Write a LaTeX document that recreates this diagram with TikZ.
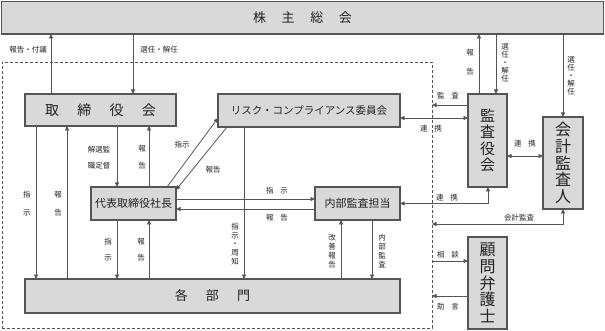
\documentclass[tikz,border=0pt]{standalone}
\usepackage{fontspec}
\setmainfont{Noto Sans CJK JP}
\usetikzlibrary{arrows.meta,calc}
\definecolor{boxfill}{HTML}{D9D9D9}
\definecolor{edge}{HTML}{555555}
\definecolor{txt}{HTML}{222222}
\begin{document}
\begin{tikzpicture}[x=1pt,y=-1pt,
  box/.style={draw=edge,fill=boxfill,line width=1.1pt,inner sep=0pt,outer sep=0pt,text=txt},
  tip/.tip={Triangle[length=4.5pt,width=4pt]},
  arr/.style={draw=edge,line width=0.8pt,-tip},
  darr/.style={draw=edge,line width=0.8pt,tip-tip},
  frame/.style={draw=edge,line width=0.8pt,dash pattern=on 3pt off 2pt,inner sep=0pt,outer sep=0pt},
  lbl/.style={font=\fontsize{7.5}{8}\selectfont,inner sep=0pt,text=txt},
  vt/.style={lbl,align=center},
]
\useasboundingbox (0,0) rectangle (605,331);

% helper coordinates (columns / rows)
\foreach \xx in {36,51,67,117,133,149,167,227,244,341,372,479,488,496}
  {\coordinate (x\xx) at (\xx,0);}
\foreach \yy in {105,118,156,190,199,209,224,261,296}
  {\coordinate (y\yy) at (0,\yy);}

% dashed frame
\node[frame,minimum width=430pt,minimum height=266pt] (frm) at (217,195) {};

% boxes
\node[box,minimum width=602pt,minimum height=32.5pt,font=\fontsize{13}{14}\selectfont] (kabu) at (302.5,17.75)
  {株\hspace{1.2em}主\hspace{1.2em}総\hspace{1.2em}会};
\node[box,minimum width=151pt,minimum height=32pt,font=\fontsize{14}{15}\selectfont] (tori) at (100.5,110)
  {取\hspace{1.3em}締\hspace{1.3em}役\hspace{1.3em}会};
\node[box,minimum width=182pt,minimum height=33pt,font=\fontsize{10.5}{12}\selectfont] (risk) at (309,110.5)
  {リスク・コンプライアンス委員会};
\node[box,minimum width=85pt,minimum height=33pt,font=\fontsize{11}{12}\selectfont] (shacho) at (133.5,203.5)
  {代表取締役社長};
\node[box,minimum width=85pt,minimum height=33pt,font=\fontsize{11}{12}\selectfont] (naibu) at (357.5,203.5)
  {内部監査担当};
\node[box,minimum width=375pt,minimum height=34pt,font=\fontsize{13}{14}\selectfont] (kakubu) at (212.5,296)
  {各\hspace{1.4em}部\hspace{1.4em}門};
\node[box,minimum width=39pt,minimum height=93pt,align=center,font=\fontsize{15}{16.5}\selectfont] (kansa) at (487.5,140.5)
  {監\\査\\役\\会};
\node[box,minimum width=40pt,minimum height=92pt,align=center,font=\fontsize{16}{16.8}\selectfont] (kaikei) at (563,163)
  {会\\計\\監\\査\\人};
\node[box,minimum width=39pt,minimum height=92pt,align=center,font=\fontsize{16}{16.8}\selectfont] (komon) at (487.5,283)
  {顧\\問\\弁\\護\\士};

% connectors to/from 株主総会
\draw[arr] (tori.north -| x51) -- (kabu.south -| x51);
\draw[arr] (kabu.south -| x133) -- (tori.north -| x133);
\draw[arr] (kansa.north -| x479) -- (kabu.south -| x479);
\draw[arr] (kabu.south -| x496) -- (kansa.north -| x496);
\draw[arr] (kabu.south -| kaikei.north) -- (kaikei.north);

% 監査役会 relations
\draw[arr] (kansa.west |- y105) -- (frm.east |- y105);
\draw[darr] (risk.east |- y118) -- (kansa.west |- y118);
\draw[darr] (naibu.east) -- (naibu.east -| x488) -- (kansa.south -| x488);
\draw[darr] (kansa.east |- y156) -- (kaikei.west |- y156);
\draw[darr] (kaikei.south) -- (kaikei.south |- y224) -- (frm.east |- y224);

% 顧問弁護士
\draw[arr] (frm.east |- y261) -- (komon.west |- y261);
\draw[arr] (komon.west |- y296) -- (frm.east |- y296);

% 取締役会 / 社長 / 各部門
\draw[arr] (tori.south -| x36) -- (kakubu.north -| x36);
\draw[arr] (kakubu.north -| x67) -- (tori.south -| x67);
\draw[arr] (tori.south -| x117) -- (shacho.north -| x117);
\draw[arr] (shacho.north -| x149) -- (tori.south -| x149);
\draw[arr] (shacho.south -| x117) -- (kakubu.north -| x117);
\draw[arr] (kakubu.north -| x149) -- (shacho.south -| x149);

% 社長 <-> リスク委員会
\draw[arr] (shacho.north -| x167) -- (risk.west |- y118);
\draw[arr] (risk.south -| x227) -- (shacho.east |- y190);

% 社長 <-> 内部監査担当
\draw[arr] (shacho.east |- y199) -- (naibu.west |- y199);
\draw[arr] (naibu.west |- y209) -- (shacho.east |- y209);

% to 各部門
\draw[arr] (risk.south -| x244) -- (kakubu.north -| x244);
\draw[arr] (kakubu.north -| x341) -- (naibu.south -| x341);
\draw[arr] (naibu.south -| x372) -- (kakubu.north -| x372);

% labels
\node[lbl] (l1) at (28,50) {報告・付議};
\node[lbl] (l2) at (159,50) {選任・解任};
\node[vt,font=\fontsize{7.5}{19}\selectfont] (l3) at (470,62.5) {報\\告};
\node[vt] (l4) at (505,63) {選\\任\\・\\解\\任};
\node[vt] (l5) at (571,76) {選\\任\\・\\解\\任};
\node[lbl] (l6) at (448,96) {監\hspace{0.9em}査};
\node[lbl] (l7) at (431,129) {連\hspace{0.9em}携};
\node[lbl] (l8) at (525,144) {連\hspace{0.9em}携};
\node[lbl] (l9) at (447,198) {連\hspace{0.9em}携};
\node[lbl] (l10) at (519,218) {会計監査};
\node[lbl] (l11) at (448,255) {相\hspace{0.9em}談};
\node[lbl] (l12) at (448,307) {助\hspace{0.9em}言};
\node[vt,font=\fontsize{7.5}{18}\selectfont] (l13) at (27,204) {指\\示};
\node[vt,font=\fontsize{7.5}{18}\selectfont] (l14) at (58,204) {報\\告};
\node[vt,font=\fontsize{7.5}{16}\selectfont] (l15) at (99,157.5) {解選監\\職定督};
\node[vt,font=\fontsize{7.5}{17}\selectfont] (l16) at (142,157.5) {報\\告};
\node[lbl] (l17) at (182,145) {指示};
\node[lbl] (l18) at (213,170) {報告};
\node[lbl] (l19) at (277,191) {指\hspace{0.9em}示};
\node[lbl] (l20) at (277,218) {報\hspace{0.9em}告};
\node[vt,font=\fontsize{7.5}{16}\selectfont] (l21) at (108,250) {指\\示};
\node[vt,font=\fontsize{7.5}{16}\selectfont] (l22) at (141,250) {報\\告};
\node[vt,font=\fontsize{7.5}{8.7}\selectfont] (l23) at (235,244) {指\\示\\・\\周\\知};
\node[vt,font=\fontsize{7.5}{9}\selectfont] (l24) at (332,251) {改\\善\\報\\告};
\node[vt,font=\fontsize{7.5}{9}\selectfont] (l25) at (382,251) {内\\部\\監\\査};
\end{tikzpicture}
\end{document}
